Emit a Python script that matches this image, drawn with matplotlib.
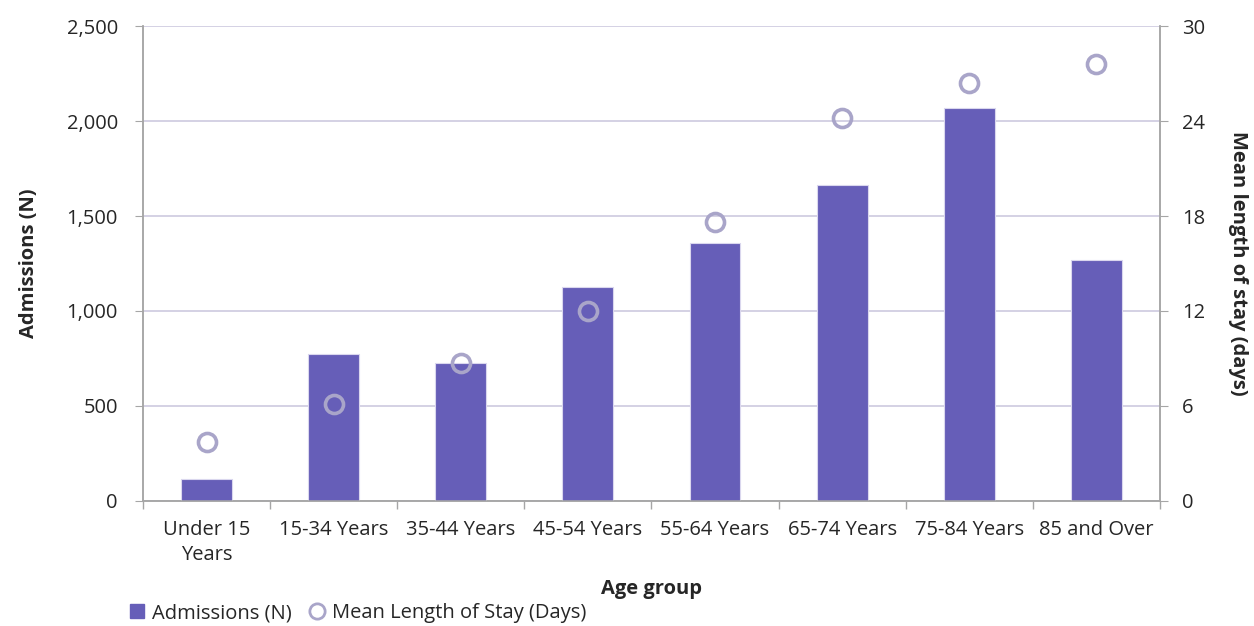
import matplotlib
matplotlib.use("Agg")
import matplotlib.pyplot as plt
from matplotlib.ticker import FuncFormatter, FixedLocator
from matplotlib.lines import Line2D
from matplotlib.patches import Patch

age_groups = ["Under 15\nYears", "15-34 Years", "35-44 Years", "45-54 Years",
              "55-64 Years", "65-74 Years", "75-84 Years", "85 and Over"]
admissions = [114, 775, 728, 1125, 1359, 1665, 2068, 1267]
mean_los = [3.7, 6.1, 8.7, 12.0, 17.6, 24.2, 26.4, 27.6]

left_ticks = [0, 500, 1000, 1500, 2000, 2500]
right_ticks = [0, 6, 12, 18, 24, 30]

bar_color = "#665EB8"
marker_edge = "#A9A5C9"
grid_color = "#C9C5DC"
axis_color = "#A6A6A6"
text_color = "#262626"

plt.rcParams["font.family"] = ["Open Sans", "DejaVu Sans"]
fs = 14.5

fig = plt.figure(figsize=(12.54, 6.26), dpi=100)
ax = fig.add_axes([0.114, 0.2, 0.811, 0.758])
ax2 = ax.twinx()

x = list(range(len(age_groups)))
ax.bar(x, admissions, width=0.4, color=bar_color, edgecolor="#DAD7EE",
       linewidth=0.8, zorder=3)
ax2.plot(x, mean_los, linestyle="none", marker="o", markersize=13,
         markerfacecolor="none", markeredgecolor=marker_edge,
         markeredgewidth=2.6, zorder=4)

ax.set_xlim(-0.5, len(age_groups) - 0.5)
ax.set_ylim(0, 2500)
ax2.set_ylim(0, 30)
ax.set_yticks(left_ticks)
ax2.set_yticks(right_ticks)
ax.yaxis.set_major_formatter(FuncFormatter(lambda v, p: f"{int(v):,}"))

ax.grid(axis="y", color=grid_color, linewidth=1.1, zorder=0)
ax.set_axisbelow(True)

ax.set_xticks(x)
ax.set_xticklabels(age_groups, fontsize=fs, color=text_color, linespacing=1.3)
ax.tick_params(axis="x", length=0, pad=14)
ax.xaxis.set_minor_locator(FixedLocator([i - 0.5 for i in range(len(age_groups) + 1)]))
ax.tick_params(axis="x", which="minor", length=6, color=axis_color, width=1)

ax.tick_params(axis="y", length=6, color=axis_color, labelsize=fs,
               labelcolor=text_color, pad=12)
ax2.tick_params(axis="y", length=6, color=axis_color, labelsize=fs,
                labelcolor=text_color, pad=10)

for a in (ax, ax2):
    a.spines["top"].set_visible(False)
    for s in ("left", "right", "bottom"):
        a.spines[s].set_color(axis_color)
        a.spines[s].set_linewidth(1.1)

ax.set_ylabel("Admissions (N)", fontsize=fs, fontweight="bold",
              color=text_color, labelpad=20)
ax2.set_ylabel("Mean length of stay (days)", fontsize=fs, fontweight="bold",
               color=text_color, rotation=-90, labelpad=31)
ax.set_xlabel("Age group", fontsize=fs, fontweight="bold", color=text_color,
              labelpad=10)

handles = [
    Patch(facecolor=bar_color, edgecolor=bar_color),
    Line2D([], [], linestyle="none", marker="o", markersize=11,
           markerfacecolor="none", markeredgecolor=marker_edge,
           markeredgewidth=2),
]
fig.legend(handles, ["Admissions (N)", "Mean Length of Stay (Days)"],
           loc="center left", bbox_to_anchor=(0.089, 0.02), ncol=2,
           frameon=False, fontsize=fs, handlelength=0.7, handleheight=0.7,
           handletextpad=0.4, columnspacing=0.9, labelcolor=text_color)

fig.savefig("out.png", dpi=100, facecolor="white")
